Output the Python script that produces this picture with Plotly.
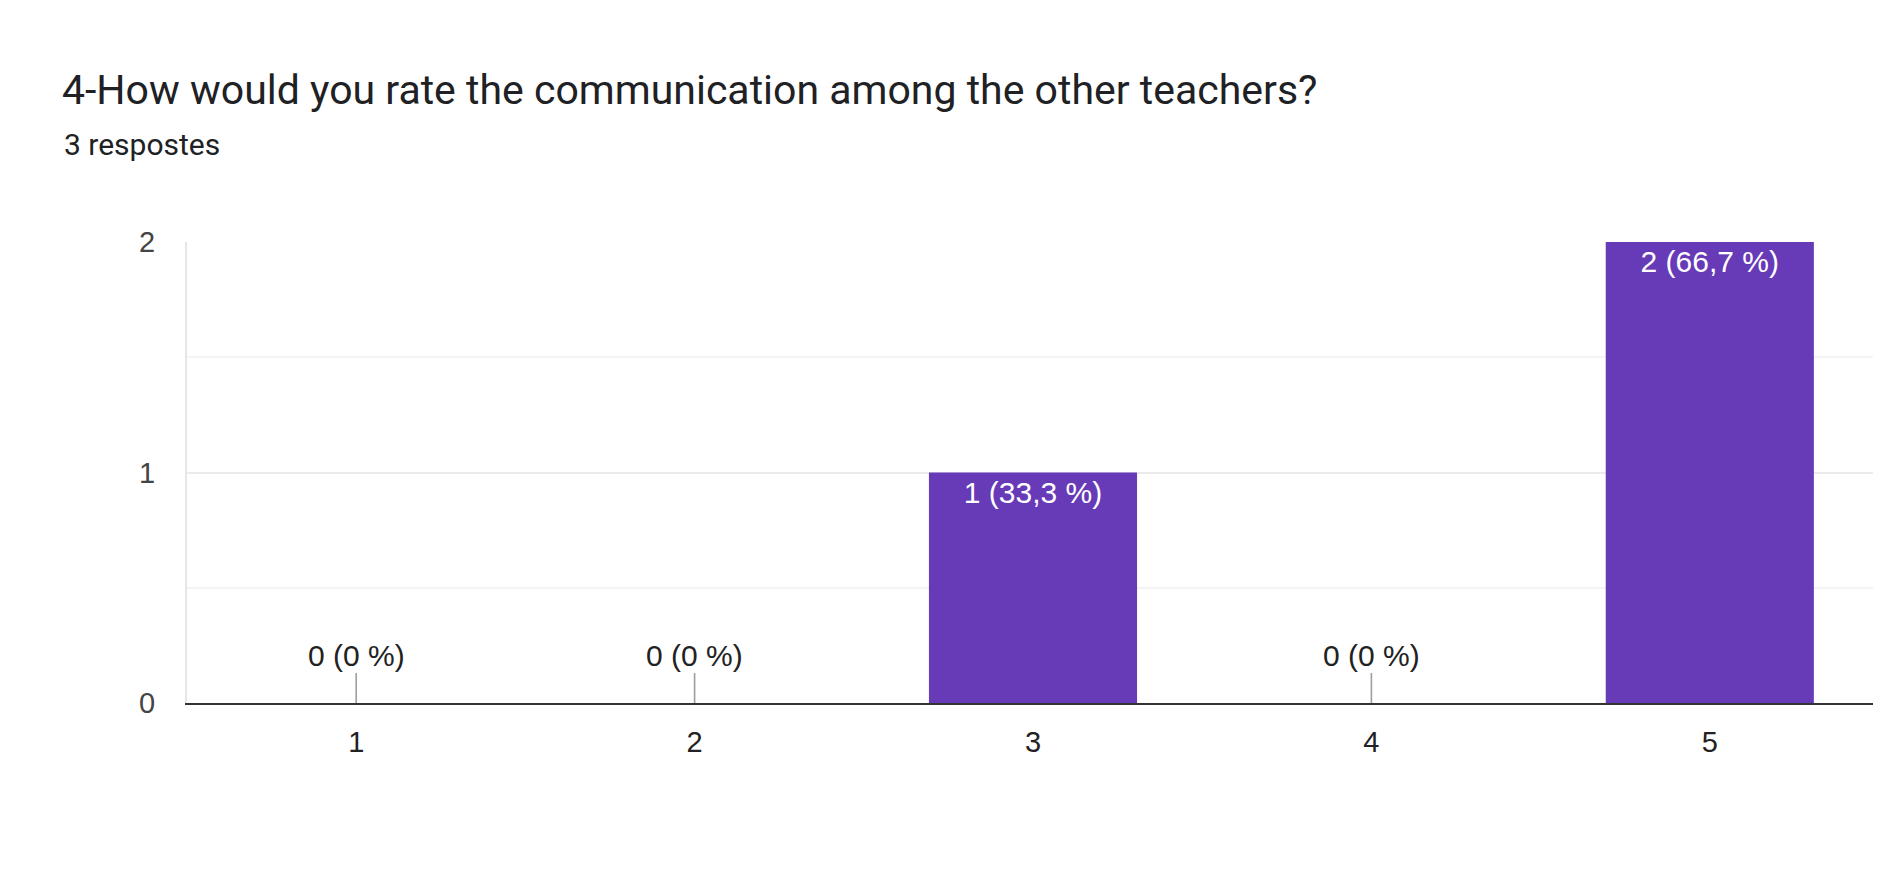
import plotly.graph_objects as go

# ---- data ----
categories = ["1", "2", "3", "4", "5"]
counts = [0, 0, 1, 0, 2]
percent_labels = ["0 %", "0 %", "33,3 %", "0 %", "66,7 %"]
y_ticks = [0, 1, 2]
title_text = "4-How would you rate the communication among the other teachers?"
subtitle_text = "3 respostes"

# ---- layout constants (page pixels; page body has an 8px margin) ----
OFF = 8
VW, VH = 1881, 895
W, H = VW - 2 * OFF, VH - 2 * OFF
PLOT_L, PLOT_T, PLOT_B = 187, 242, 703
PLOT_R = OFF + W
CAT_STEP = 338.4  # pixel distance between categories in the reference
ML = PLOT_L - OFF
MR = 0
MT = PLOT_T - OFF
MB = H + OFF - PLOT_B
PLOT_H = PLOT_B - PLOT_T
PLOT_W = PLOT_R - PLOT_L
X_MIN = 0.5
X_MAX = X_MIN + PLOT_W / CAT_STEP
PURPLE = "#673ab7"
AXIS_FONT = "Liberation Sans, Arial, sans-serif"
TITLE_FONT = "Roboto, Arial, sans-serif"

labels = [f"{c} ({p})" for c, p in zip(counts, percent_labels)]
x_pos = [int(c) for c in categories]

fig = go.Figure()
fig.add_trace(go.Bar(
    x=x_pos,
    y=counts,
    width=0.615,
    marker=dict(color=PURPLE, line=dict(width=0)),
    text=[l if c > 0 else "" for l, c in zip(labels, counts)],
    textposition="inside",
    insidetextanchor="end",
    textfont=dict(family=AXIS_FONT, size=30, color="white"),
    hoverinfo="skip",
))

annotations = []
for xv, c, l in zip(x_pos, counts, labels):
    if c == 0:
        annotations.append(dict(
            x=xv, y=0, xref="x", yref="y",
            text=l, showarrow=True, arrowhead=0, arrowwidth=1.6,
            arrowcolor="#9e9e9e", ax=0, ay=-48,
            font=dict(family=AXIS_FONT, size=30, color="#222222"),
        ))

# subtitle
annotations.append(dict(
    x=(62 - PLOT_L) / PLOT_W, y=(PLOT_B - 144) / PLOT_H,
    xref="paper", yref="paper", xanchor="left", yanchor="middle",
    text=subtitle_text, showarrow=False,
    font=dict(family=TITLE_FONT, size=30, color="#202124"),
))

fig.update_layout(
    width=W, height=H,
    margin=dict(l=ML, r=MR, t=MT, b=MB, pad=0),
    paper_bgcolor="white", plot_bgcolor="white",
    showlegend=False,
    title=dict(
        text=title_text,
        xref="container", yref="container",
        x=(62 - OFF) / W, xanchor="left",
        y=1 - (90 - OFF) / H, yanchor="middle",
        font=dict(family=TITLE_FONT, size=41, color="#202124"),
    ),
    annotations=annotations,
)

fig.update_xaxes(
    range=[X_MIN, X_MAX],
    tickmode="array", tickvals=x_pos, ticktext=categories,
    showgrid=False, zeroline=False,
    showline=True, linecolor="#333333", linewidth=2,
    ticks="", ticklabelstandoff=12,
    tickfont=dict(family=AXIS_FONT, size=29, color="#222222"),
    fixedrange=True,
)
fig.update_yaxes(
    range=[0, 2],
    tickmode="array", tickvals=y_ticks, ticktext=[str(v) for v in y_ticks],
    showgrid=True, gridcolor="#ebebeb", gridwidth=2,
    minor=dict(dtick=0.5, showgrid=True, gridcolor="#f4f4f4", gridwidth=1.5),
    zeroline=False,
    showline=True, linecolor="#e6e6e6", linewidth=2,
    ticks="", ticklabelstandoff=24,
    tickfont=dict(family=AXIS_FONT, size=29, color="#444444"),
    fixedrange=True,
)

fig.write_html("out.html", config={"displayModeBar": False})
